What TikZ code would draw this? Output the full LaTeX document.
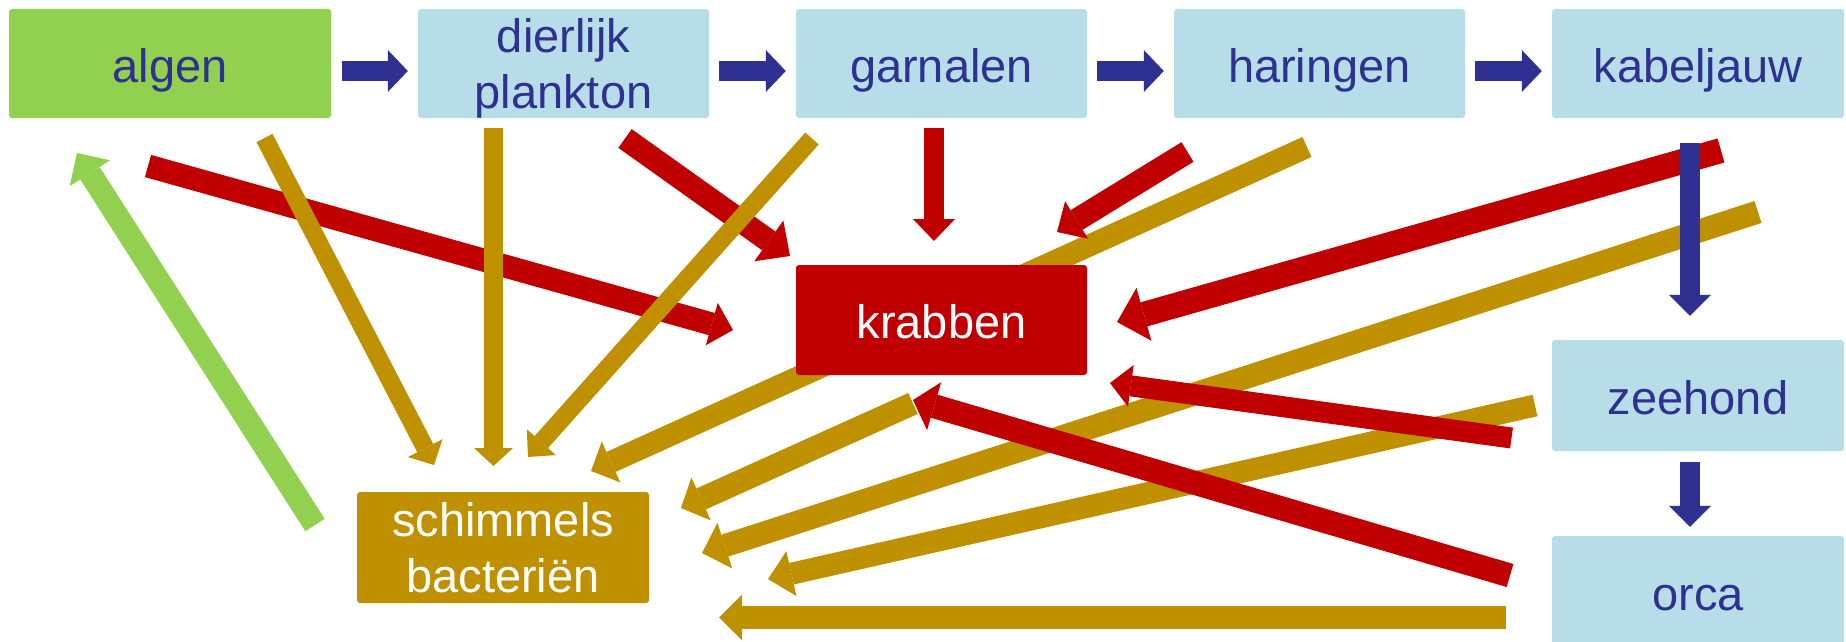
\documentclass[tikz,border=0pt]{standalone}
\usepackage{fontspec}
\setmainfont{Liberation Sans}
\usetikzlibrary{arrows.meta}
\definecolor{cgreen}{HTML}{92D050}
\definecolor{clblue}{HTML}{B7DEE8}
\definecolor{cdblue}{HTML}{2E3192}
\definecolor{cred}{HTML}{C00000}
\definecolor{cgold}{HTML}{BF9000}
\tikzset{
  box/.style={rectangle, rounded corners=3pt, minimum height=110pt, minimum width=291pt,
    inner sep=0pt, text depth=0pt, align=center, font=\fontsize{47}{56}\selectfont},
  oneline/.style={text height=37pt},
  bluebox/.style={box, fill=clblue, text=cdblue},
  greenbox/.style={box, fill=cgreen, text=cdblue},
  redbox/.style={box, fill=cred, text=white},
  goldbox/.style={box, fill=cgold, text=white},
  ar/.style n args={4}{draw=#1, line width=#2, line cap=butt,
    -{Triangle[width=#3, length=#4, line width=0pt]}}
}
\begin{document}
\begin{tikzpicture}[x=1pt, y=-1pt]
\clip (0,0) rectangle (1846,642);
\fill[white] (0,0) rectangle (1846,642);
% coordinates for connector ends
\coordinate (g1s) at (264.5,138);  \coordinate (g1t) at (434,465);
\coordinate (g2s) at (493.5,128);  \coordinate (g2t) at (493.5,466);
\coordinate (g3s) at (812,138.5);  \coordinate (g3t) at (528,457);
\coordinate (g4s) at (1307,147);   \coordinate (g4t) at (591,471);
\coordinate (g5s) at (913,403.5);  \coordinate (g5t) at (681,508);
\coordinate (g6s) at (1758,212);   \coordinate (g6t) at (702,553);
\coordinate (g7s) at (1535,405.5); \coordinate (g7t) at (768,579);
\coordinate (g8s) at (1506,617.5); \coordinate (g8t) at (719,617.5);
\coordinate (r1s) at (148,166);    \coordinate (r1t) at (733,330);
\coordinate (r2s) at (625,138.5);  \coordinate (r2t) at (790,256);
\coordinate (r3s) at (934,128);    \coordinate (r3t) at (934,241);
\coordinate (r4s) at (1187.5,152); \coordinate (r4t) at (1057,232);
\coordinate (r5s) at (1721,150.5); \coordinate (r5t) at (1117,322);
\coordinate (r6s) at (1511.5,438); \coordinate (r6t) at (1110,383);
\coordinate (r7s) at (1510,575.5); \coordinate (r7t) at (913,400);
\coordinate (gns) at (315,525);    \coordinate (gnt) at (77,153);
% red arrows under the gold ones
\draw[ar={cred}{23pt}{44pt}{22pt}] (r1s) -- (r1t);
\draw[ar={cred}{23pt}{50pt}{26pt}] (r2s) -- (r2t);
\draw[ar={cred}{20pt}{42pt}{22pt}] (r3s) -- (r3t);
% gold arrows
\draw[ar={cgold}{18pt}{39pt}{19pt}] (g1s) -- (g1t);
\draw[ar={cgold}{19pt}{39pt}{18pt}] (g2s) -- (g2t);
\draw[ar={cgold}{18pt}{39pt}{20pt}] (g3s) -- (g3t);
\draw[ar={cgold}{22pt}{45pt}{22pt}] (g4s) -- (g4t);
\draw[ar={cgold}{23pt}{47pt}{22pt}] (g5s) -- (g5t);
\draw[ar={cgold}{23pt}{48pt}{24pt}] (g6s) -- (g6t);
\draw[ar={cgold}{22pt}{46pt}{24pt}] (g7s) -- (g7t);
\draw[ar={cgold}{23pt}{46pt}{23pt}] (g8s) -- (g8t);
% red arrows over the gold ones
\draw[ar={cred}{23pt}{44pt}{23pt}] (r4s) -- (r4t);
\draw[ar={cred}{25pt}{55pt}{28pt}] (r5s) -- (r5t);
\draw[ar={cred}{21pt}{42pt}{21pt}] (r6s) -- (r6t);
\draw[ar={cred}{24pt}{50pt}{22pt}] (r7s) -- (r7t);
% green arrow
\draw[ar={cgreen}{23pt}{48pt}{24pt}] (gns) -- (gnt);
% boxes
\node[greenbox, oneline, minimum width=322pt, minimum height=109pt] (algen) at (170,63.5) {algen};
\node[bluebox, minimum height=109pt] (dierlijk) at (563.5,63.5) {dierlijk\\plankton};
\node[bluebox, oneline, minimum height=109pt] (garnalen) at (941.5,63.5) {garnalen};
\node[bluebox, oneline, minimum height=109pt] (haringen) at (1319.5,63.5) {haringen};
\node[bluebox, oneline, minimum width=292pt, minimum height=109pt] (kabeljauw) at (1698,63.5) {kabeljauw};
\node[redbox, oneline] (krabben) at (941.5,320) {krabben};
\node[bluebox, oneline, minimum width=292pt, minimum height=111pt] (zeehond) at (1698,395.5) {zeehond};
\node[bluebox, oneline, minimum width=292pt, minimum height=111pt] (orca) at (1698,591.5) {orca};
\node[goldbox, minimum width=292pt, minimum height=111pt] (schimmels) at (503,547.5) {schimmels\\bacteriën};
% blue arrows
\draw[ar={cdblue}{20pt}{42pt}{20pt}] ([xshift=11pt]algen.east |- 0,71) -- ([xshift=-10pt]dierlijk.west |- 0,71);
\draw[ar={cdblue}{20pt}{42pt}{20pt}] ([xshift=10pt]dierlijk.east |- 0,71) -- ([xshift=-10pt]garnalen.west |- 0,71);
\draw[ar={cdblue}{20pt}{42pt}{20pt}] ([xshift=10pt]garnalen.east |- 0,71) -- ([xshift=-10pt]haringen.west |- 0,71);
\draw[ar={cdblue}{20pt}{42pt}{20pt}] ([xshift=10pt]haringen.east |- 0,71) -- ([xshift=-10pt]kabeljauw.west |- 0,71);
\draw[ar={cdblue}{20pt}{42pt}{21pt}] ([yshift=-25pt]kabeljauw.south -| 1690,0) -- ([yshift=24pt]zeehond.north -| 1690,0);
\draw[ar={cdblue}{20pt}{42pt}{21pt}] ([yshift=-11pt]zeehond.south -| 1690,0) -- ([yshift=9pt]orca.north -| 1690,0);
\end{tikzpicture}
\end{document}
